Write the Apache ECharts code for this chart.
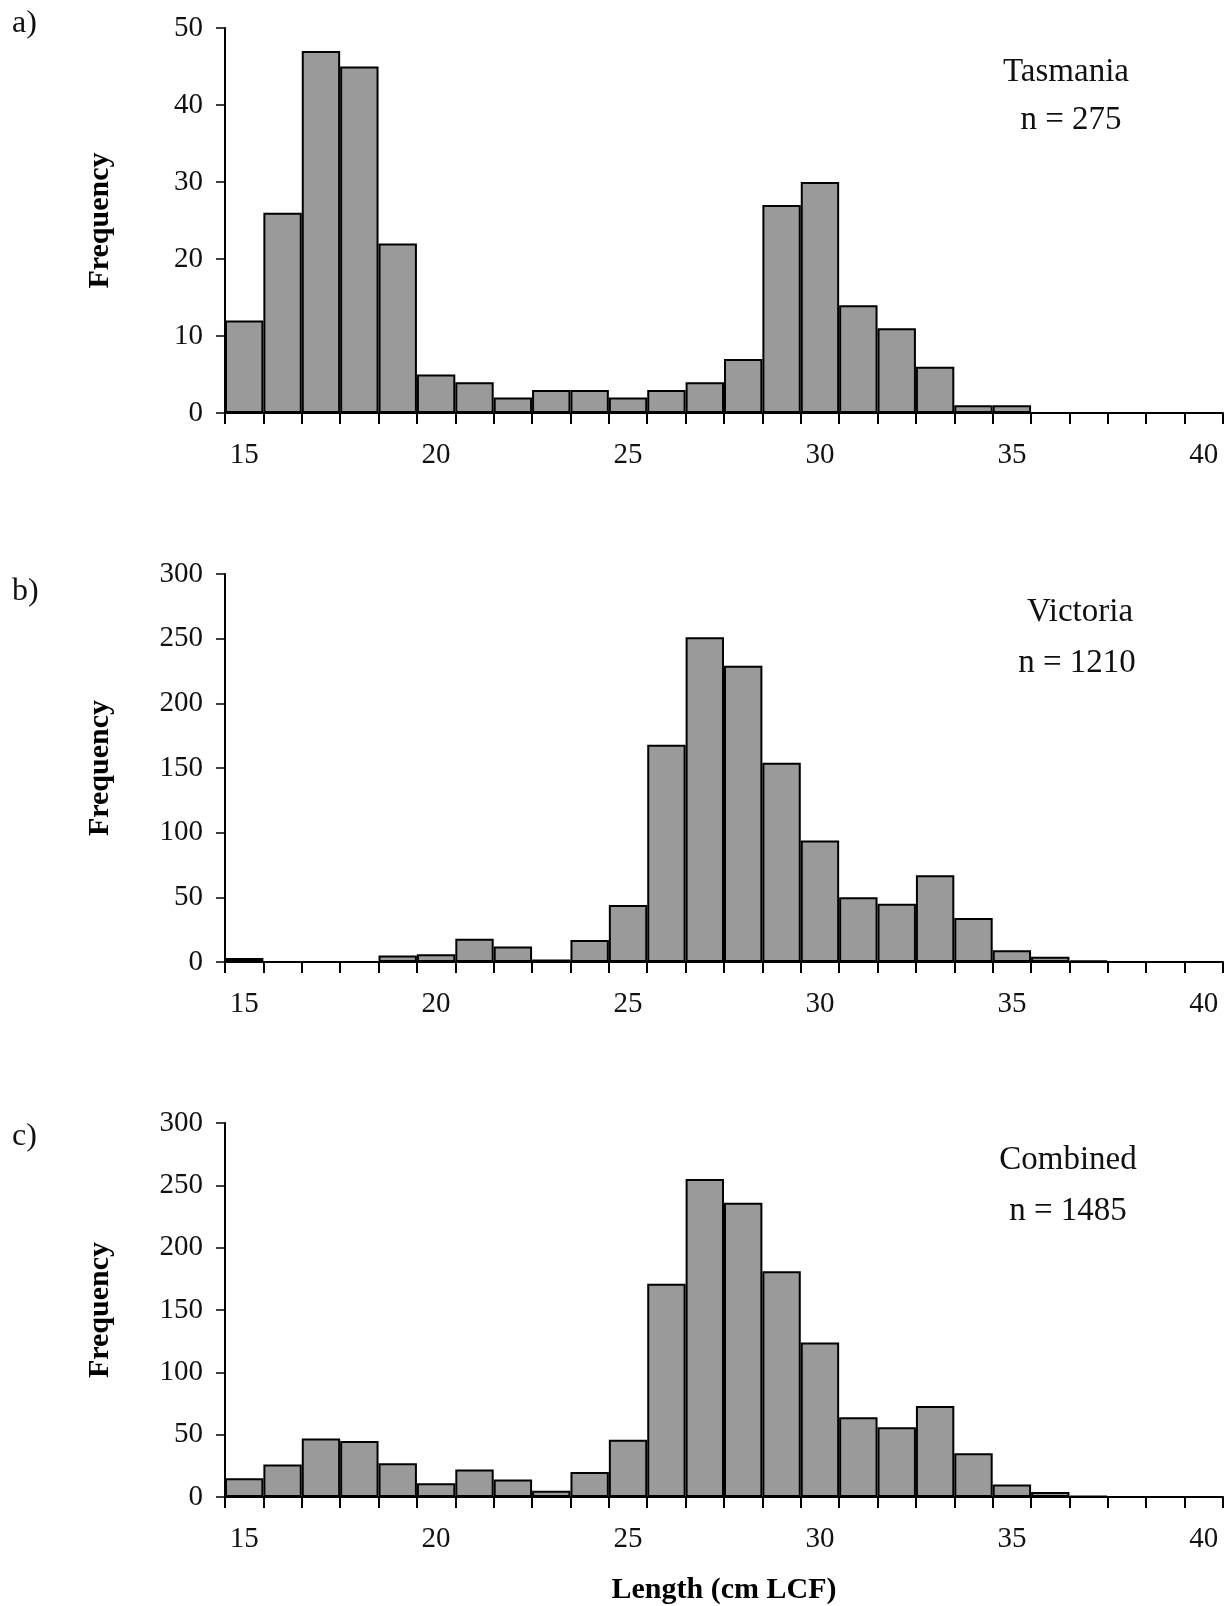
<!DOCTYPE html>
<html>
<head>
<meta charset="utf-8">
<title>Length frequency</title>
<script src="https://cdn.jsdelivr.net/npm/echarts@6/dist/echarts.min.js"></script>
<style>
  html, body { margin: 0; padding: 0; background: #fff; }
  #chart { width: 1231px; height: 1606px; }
</style>
</head>
<body>
<div id="chart"></div>
<script>
// length classes (cm LCF), 1 cm bins centred on the label
const lengthBins = ['15', '16', '17', '18', '19', '20', '21', '22', '23', '24', '25', '26', '27',
  '28', '29', '30', '31', '32', '33', '34', '35', '36', '37', '38', '39', '40']

const tasmaniaFreq = [12, 26, 47, 45, 22, 5, 4, 2, 3, 3, 2, 3, 4, 7, 27, 30, 14, 11, 6, 1, 1, 0, 0, 0, 0, 0]
const victoriaFreq = [3, 0, 0, 0, 5, 6, 18, 12, 2, 17, 44, 168, 251, 229, 154, 94, 50, 45, 67, 34, 9, 4, 1, 0, 0, 0]
const combinedFreq = [15, 26, 47, 45, 27, 11, 22, 14, 5, 20, 46, 171, 255, 236, 181, 124, 64, 56, 73, 35, 10, 4, 1, 0, 0, 0]

const panelLetters = ['a)', 'b)', 'c)']
const panelNames = ['Tasmania', 'Victoria', 'Combined']
const panelCounts = ['n = 275', 'n = 1210', 'n = 1485']
const yMax = [50, 300, 300]
const yStep = [10, 50, 50]

const SERIF = '"Liberation Serif", "Times New Roman", serif'
const series = [tasmaniaFreq, victoriaFreq, combinedFreq]

// layout of the three panels
const grids = [
  { left: 225, width: 998, top: 28, height: 385 },
  { left: 225, width: 998, top: 574, height: 388 },
  { left: 225, width: 998, top: 1123, height: 384 }
]
const letterY = [26, 594, 1139]
const nameY = [72, 612, 1160]
const countY = [120, 663, 1211]
const nameX = [1066, 1080, 1068]
const countX = [1071, 1077, 1068]

const chart = echarts.init(document.getElementById('chart'))

const xAxes = grids.map((g, i) => ({
  type: 'category',
  gridIndex: i,
  data: lengthBins,
  boundaryGap: true,
  axisLine: { show: true, lineStyle: { color: '#000', width: 2 } },
  axisTick: { show: true, interval: 0, alignWithLabel: false, length: 11, lineStyle: { color: '#000', width: 2 } },
  axisLabel: {
    interval: (idx) => idx % 5 === 0,
    margin: 28,
    fontFamily: SERIF,
    fontSize: 29,
    color: '#111'
  },
  name: i === 2 ? 'Length (cm LCF)' : '',
  nameLocation: 'middle',
  nameGap: 78,
  nameTextStyle: { fontFamily: SERIF, fontSize: 30, fontWeight: 'bold', color: '#000' }
}))

const yAxes = grids.map((g, i) => ({
  type: 'value',
  gridIndex: i,
  min: 0,
  max: yMax[i],
  interval: yStep[i],
  splitLine: { show: false },
  axisLine: { show: true, lineStyle: { color: '#000', width: 2 } },
  axisTick: { show: true, length: 9, lineStyle: { color: '#000', width: 1.5 } },
  axisLabel: { margin: 22, fontFamily: SERIF, fontSize: 29, color: '#111' },
  name: 'Frequency',
  nameLocation: 'middle',
  nameRotate: 90,
  nameGap: 110,
  nameTextStyle: { fontFamily: SERIF, fontSize: 30, fontWeight: 'bold', color: '#000' }
}))

const barSeries = series.map((data, i) => ({
  type: 'bar',
  xAxisIndex: i,
  yAxisIndex: i,
  data: data,
  barWidth: '100%',
  barCategoryGap: 0,
  itemStyle: { color: '#9a9a9a', borderColor: '#000', borderWidth: 2 },
  silent: true
}))

const texts = []
for (let i = 0; i < 3; i++) {
  texts.push({
    type: 'text', left: 12, top: letterY[i] - 18,
    style: { text: panelLetters[i], font: '32px ' + SERIF, fill: '#111' }
  })
  texts.push({
    type: 'text', x: nameX[i], y: nameY[i],
    style: { text: panelNames[i], font: '33px ' + SERIF, fill: '#111', align: 'center', verticalAlign: 'middle' }
  })
  texts.push({
    type: 'text', x: countX[i], y: countY[i],
    style: { text: panelCounts[i], font: '33px ' + SERIF, fill: '#111', align: 'center', verticalAlign: 'middle' }
  })
}

chart.setOption({
  backgroundColor: '#fff',
  animation: false,
  grid: grids,
  xAxis: xAxes,
  yAxis: yAxes,
  series: barSeries,
  graphic: texts
})
</script>
</body>
</html>
